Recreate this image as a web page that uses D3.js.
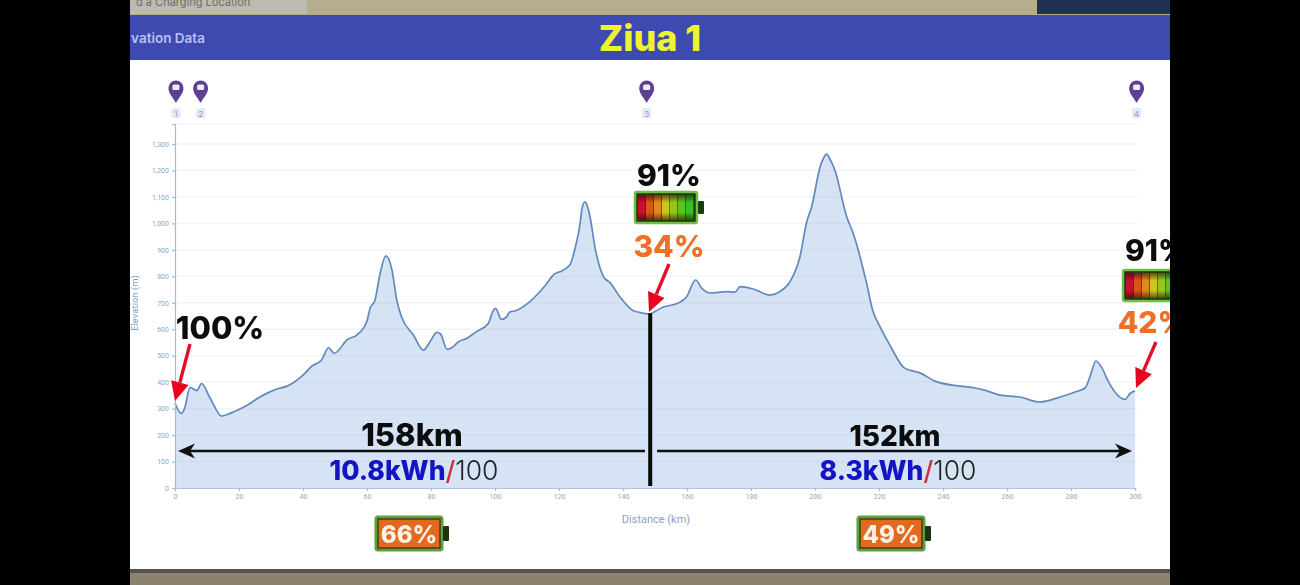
<!DOCTYPE html>
<html><head><meta charset="utf-8">
<script src="https://cdn.jsdelivr.net/npm/d3@7/dist/d3.min.js"></script>
<style>html,body{margin:0;padding:0;background:#000;overflow:hidden}svg{display:block;filter:blur(0.55px)}
text{font-family:Inter,"Noto Sans",sans-serif}</style></head><body>
<script>
const distanceKm=[0,2,3,4.7,6.8,8.3,11,14.6,17.2,21.4,27.6,31.8,35,40,42.8,45.8,48,49.7,54,56.8,59.9,61,62.5,64,65.9,67.8,69.3,70.8,74.5,77.6,79.7,81.8,83,85,86.5,88.6,91.1,94.2,97.9,99.5,100.2,102,103.6,104.7,106.2,110.9,113.5,116,118.5,120,123.4,125,126.6,127.1,128.1,129,129.7,131.2,133.9,136,139,143.2,144.8,147.9,152.6,157.3,159.9,162.7,164.6,167.2,172.4,175,176.6,180.7,185.9,189,192.2,195.3,197.4,199,201.6,202.6,203.6,204.8,206.2,209.9,211.9,216.1,218,220.3,223.4,228,232.8,237.5,245.3,250,253,257.8,264,270.3,276.6,281.3,284.4,286,287.8,289.7,291.6,296.9,298.5,300];
const elevationM=[320,282,301,380,368,395,339,272,282,305,351,374,385,427,461,484,530,509,562,578,628,680,710,805,877,824,710,647,578,521,553,588,582,524,530,553,565,591,622,672,679,637,647,666,669,704,735,770,808,816,843,905,1000,1050,1081,1060,1025,912,799,775,723,670,665,658,684,699,723,786,755,737,742,740,761,752,729,742,780,874,1005,1065,1214,1245,1262,1240,1202,1025,964,775,673,610,540,453,435,404,385,378,370,351,344,325,344,363,378,423,480,453,404,335,358,367];
const yTicks=[0,100,200,300,400,500,600,700,800,900,1000,1100,1200,1300];
const xTicks=[0,20,40,60,80,100,120,140,160,180,200,220,240,260,280,300];
const pinKm=[0.3,8,147.4,300.5];
const pinLabels=["1","2","3","4"];
const legSplitKm=148.5;
const title="Ziua 1", headerText="vation Data";
const legDistance=["158km","152km"], legEnergy=["10.8kWh","8.3kWh"], legUsed=["66%","49%"];
const chargeTop=["91%","91%"], chargeArrival=["34%","42%"], startCharge="100%";
const cellColors=["#c8102e","#d9541a","#dd8a1e","#cfc51c","#93c81f","#5cc41f","#38c020"];

const W=1300,H=585;
const svg=d3.select("body").append("svg").attr("width",W).attr("height",H);
const defs=svg.append("defs");
const grad=defs.append("linearGradient").attr("id","shade").attr("x1",0).attr("x2",0).attr("y1",0).attr("y2",1);
[[0,.55],[.3,0],[.7,0],[1,.55]].forEach(s=>grad.append("stop").attr("offset",s[0]).attr("stop-color","#200").attr("stop-opacity",s[1]));
const x=d3.scaleLinear().domain([0,300]).range([175,1135]);
const y=d3.scaleLinear().domain([0,1375.6]).range([488,124]);

// surrounding screenshot
svg.append("rect").attr("x",130).attr("y",0).attr("width",1040).attr("height",15).attr("fill","#b6ad8c");
svg.append("rect").attr("x",130).attr("y",0).attr("width",177).attr("height",14).attr("fill","#bdbbb0");
svg.append("rect").attr("x",1037).attr("y",0).attr("width",133).attr("height",14).attr("fill","#1f3050");
svg.append("text").attr("x",136).attr("y",6).attr("font-size",11).attr("fill","#6f6e68").text("d a Charging Location");
svg.append("rect").attr("x",130).attr("y",15).attr("width",1040).attr("height",46).attr("fill","#3f4ab0");
svg.append("rect").attr("x",130).attr("y",60).attr("width",1040).attr("height",510).attr("fill","#fff");
svg.append("rect").attr("x",130).attr("y",570).attr("width",1040).attr("height",15).attr("fill","#8b8370");
svg.append("rect").attr("x",130).attr("y",569).attr("width",1040).attr("height",4).attr("fill","#55534d");

svg.append("text").attr("x",168).attr("y",43).attr("font-size",13.5).attr("font-weight",600).attr("fill","#b9c0f2").attr("text-anchor","middle").text(headerText);
svg.append("text").attr("x",650).attr("y",51).attr("font-size",36).attr("font-weight",800).attr("fill","#eef22f").attr("text-anchor","middle").text(title);

// area + line
const pts=distanceKm.map((d,i)=>[d,elevationM[i]]);
svg.append("path").datum(pts).attr("fill","#d6e3f4")
 .attr("d",d3.area().curve(d3.curveMonotoneX).x(d=>x(d[0])).y0(y(0)).y1(d=>y(d[1])));
// grid: faint over both white and the filled area
svg.append("g").selectAll("line").data(yTicks.slice(1).concat([1375.6])).join("line")
 .attr("x1",x(0)).attr("x2",1137).attr("y1",d=>y(d)).attr("y2",d=>y(d)).attr("stroke","#a9b4c8").attr("stroke-opacity",.16).attr("stroke-width",1.3);
svg.append("path").datum(pts).attr("fill","none").attr("stroke","#6189bd").attr("stroke-width",1.7)
 .attr("stroke-linejoin","round")
 .attr("d",d3.line().curve(d3.curveMonotoneX).x(d=>x(d[0])).y(d=>y(d[1])));

// axes
const axisCol="#a9b8d6", labCol="#9aa3b8";
const gy=svg.append("g").attr("transform",`translate(${x(0)},0)`).call(d3.axisLeft(y).tickValues(yTicks).tickSize(3).tickFormat(d3.format(",")));
const gx=svg.append("g").attr("transform",`translate(0,${y(0)})`).call(d3.axisBottom(x).tickValues(xTicks).tickSize(3).tickFormat(d3.format("d")));
[gy,gx].forEach(g=>{g.selectAll("path,line").attr("stroke",axisCol).attr("stroke-width",1.2);
 g.selectAll("text").attr("fill",labCol).attr("font-size",7).style("font-family","Roboto");});
gx.select("path").attr("stroke","#b5c4de");
svg.append("text").attr("transform","translate(138,303) rotate(-90)").attr("text-anchor","middle").attr("font-size",9.5).attr("fill","#7f9ccb").style("font-family","Roboto").text("Elevation (m)");
svg.append("text").attr("x",656).attr("y",523).attr("text-anchor","middle").attr("font-size",11).attr("fill","#8fa0c4").style("font-family","Roboto").text("Distance (km)");

// pins
const pins=svg.append("g").selectAll("g").data(pinKm).join("g").attr("transform",d=>`translate(${x(d)},0)`);
pins.append("path").attr("d","M0,103 C-3,97 -7.5,94 -7.5,88 A7.5,7.5 0 1 1 7.5,88 C7.5,94 3,97 0,103Z").attr("fill","#5f3f94");
pins.append("rect").attr("x",-3.5).attr("y",84.5).attr("width",7).attr("height",5.5).attr("rx",1.5).attr("fill","#eee9f5");
pins.append("rect").attr("x",-4.5).attr("y",108).attr("width",9).attr("height",10).attr("rx",1.5).attr("fill","#e6e9f6");
pins.append("text").data(pinLabels).attr("y",116.5).attr("text-anchor","middle").attr("font-size",8).attr("fill","#8f98b8").text(d=>d);

// helpers
function txt(s,px,py,size,weight,fill,anchor){return svg.append("text").attr("x",px).attr("y",py).attr("font-size",size).attr("font-weight",weight).attr("fill",fill).attr("text-anchor",anchor||"middle").text(s);}
function redArrow(x1,y1,x2,y2){
 const a=Math.atan2(y2-y1,x2-x1),L=19,w=9;
 const bx=x2-L*Math.cos(a),by=y2-L*Math.sin(a);
 svg.append("line").attr("x1",x1).attr("y1",y1).attr("x2",bx).attr("y2",by).attr("stroke","#e0102a").attr("stroke-width",3.4);
 svg.append("polygon").attr("fill","#e8041f").attr("points",[[x2,y2],[bx+w*Math.sin(a),by-w*Math.cos(a)],[bx-w*Math.sin(a),by+w*Math.cos(a)]].join(" "));
}
function blackArrow(x1,x2,py){
 const dir=x2>x1?1:-1;
 svg.append("line").attr("x1",x1).attr("x2",x2-dir*8).attr("y1",py).attr("y2",py).attr("stroke","#111").attr("stroke-width",2.6);
 svg.append("polygon").attr("fill","#111").attr("points",[[x2,py],[x2-dir*17,py-7.5],[x2-dir*12,py],[x2-dir*17,py+7.5]].join(" "));
}
function chargedBattery(px,py){
 svg.append("rect").attr("x",px).attr("y",py).attr("width",62).attr("height",31).attr("rx",2).attr("fill","#1e3a12").attr("stroke","#6fbe45").attr("stroke-width",2.5);
 svg.append("g").selectAll("rect").data(cellColors).join("rect").attr("x",(d,i)=>px+3+i*8).attr("y",py+3.5).attr("width",7.4).attr("height",24).attr("fill",d=>d);
 svg.append("rect").attr("x",px+3).attr("y",py+3.5).attr("width",56).attr("height",24).attr("fill","url(#shade)");
 svg.append("rect").attr("x",px+63).attr("y",py+9).attr("width",6).attr("height",13).attr("rx",1).attr("fill","#1e3a12");
}
function usedBattery(px,py,label){
 svg.append("rect").attr("x",px).attr("y",py).attr("width",66).attr("height",33).attr("rx",2).attr("fill","#e2691f").attr("stroke","#5f9e3a").attr("stroke-width",3);
 svg.append("rect").attr("x",px+2).attr("y",py+2).attr("width",62).attr("height",29).attr("fill","none").attr("stroke","#2f4a1a").attr("stroke-width",1.5);
 svg.append("rect").attr("x",px+67).attr("y",py+9).attr("width",6).attr("height",15).attr("rx",1).attr("fill","#1c3312");
 txt(label,px+33,py+26,24,800,"#fdf0e4");
}

// annotations
txt(startCharge,220,339,31,800,"#0c0c0c");
redArrow(190,344,175,401);

const sx=x(legSplitKm);
svg.append("line").attr("x1",sx).attr("x2",sx).attr("y1",y(660)).attr("y2",486).attr("stroke","#0a0a0a").attr("stroke-width",4);
blackArrow(645,178,451); blackArrow(657,1132,451);

txt(legDistance[0],412,446,31,800,"#0c0c0c");
txt(legDistance[1],895,446,28,800,"#0c0c0c");

function energy(cx,py,val){
 const t=svg.append("text").attr("x",cx).attr("y",py).attr("font-size",26.5).attr("text-anchor","middle");
 t.append("tspan").attr("font-weight",800).attr("fill","#1414c4").text(val);
 t.append("tspan").attr("font-weight",500).attr("fill","#c8303c").text("/");
 t.append("tspan").attr("font-weight",300).attr("fill","#222").text("100");
}
energy(414,480,legEnergy[0]); energy(898,480,legEnergy[1]);

txt(chargeTop[0],669,186,30,800,"#0c0c0c");
chargedBattery(635,192);
txt(chargeArrival[0],669,257,30,800,"#ee7126");
redArrow(669,264,649,312);

txt(chargeTop[1],1157,261,30,800,"#0c0c0c");
chargedBattery(1123,270);
txt(chargeArrival[1],1153,333,30,800,"#ee7126");
redArrow(1156,342,1136,388);

usedBattery(376,517,legUsed[0]);
usedBattery(858,517,legUsed[1]);

// black side bars on top, clipping the overflowed labels
svg.append("rect").attr("x",0).attr("y",0).attr("width",130).attr("height",H).attr("fill","#000");
svg.append("rect").attr("x",1170).attr("y",0).attr("width",130).attr("height",H).attr("fill","#000");
</script></body></html>
